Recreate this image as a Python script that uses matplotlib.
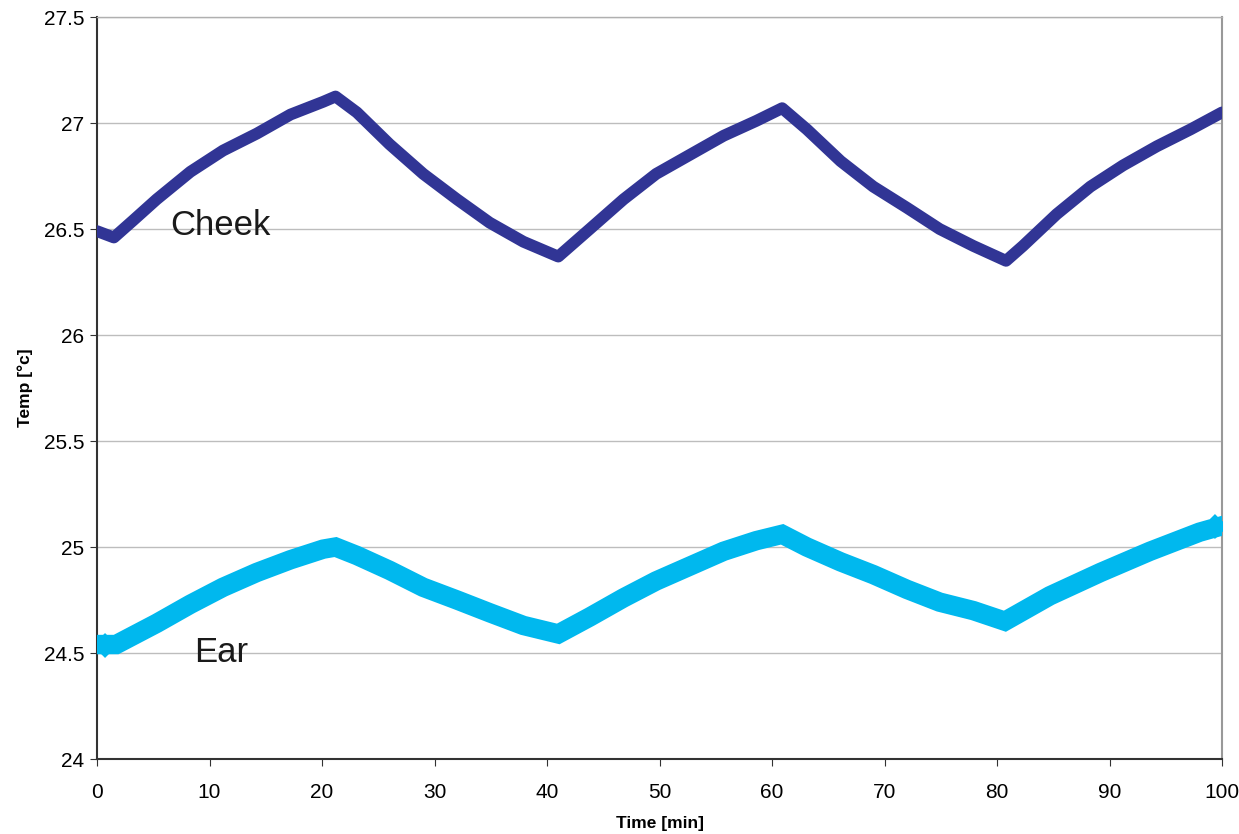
import matplotlib
matplotlib.use("Agg")
import matplotlib.pyplot as plt

plt.rcParams["font.family"] = ["Liberation Sans", "DejaVu Sans"]

# values
time_cheek = [0, 1.5, 3.2, 5.3, 8.3, 11.2, 14.2, 17.2, 20.1, 21.2, 23.1, 26.0, 29.0,
              32.0, 34.9, 37.9, 41.0, 43.8, 46.8, 49.7, 52.7, 55.7, 58.6, 60.9,
              63.1, 66.1, 69.0, 72.0, 74.9, 77.9, 80.8, 82.3, 85.3, 88.3, 91.2,
              94.2, 97.2, 100]
temp_cheek = [26.49, 26.46, 26.54, 26.64, 26.77, 26.87, 26.95, 27.04, 27.10, 27.125,
              27.05, 26.90, 26.76, 26.64, 26.53, 26.44, 26.37, 26.50, 26.64, 26.76,
              26.85, 26.94, 27.01, 27.07, 26.97, 26.82, 26.70, 26.60, 26.50, 26.42,
              26.35, 26.42, 26.57, 26.70, 26.80, 26.89, 26.97, 27.05]

time_ear = [0, 1.7, 5.3, 8.3, 11.2, 14.2, 17.2, 20.1, 21.2, 23.1, 26.0, 29.0, 32.0,
            34.9, 37.9, 41.0, 43.8, 46.8, 49.7, 52.7, 55.7, 58.6, 60.9, 63.1, 66.1,
            69.0, 72.0, 74.9, 77.9, 80.7, 84.7, 89.2, 93.6, 98.0, 100]
temp_ear = [24.54, 24.54, 24.64, 24.73, 24.81, 24.88, 24.94, 24.99, 25.00, 24.96,
            24.89, 24.81, 24.75, 24.69, 24.63, 24.59, 24.67, 24.76, 24.84, 24.91,
            24.98, 25.03, 25.06, 25.00, 24.93, 24.87, 24.80, 24.74, 24.70, 24.65,
            24.77, 24.88, 24.98, 25.07, 25.10]

xticks = list(range(0, 101, 10))
yticks = [24, 24.5, 25, 25.5, 26, 26.5, 27, 27.5]
ytick_labels = ["24", "24.5", "25", "25.5", "26", "26.5", "27", "27.5"]

fig = plt.figure(figsize=(12.39, 8.34), dpi=100)
ax = fig.add_axes([0.0783, 0.0899, 0.9080, 0.8897])

ax.plot(time_ear, temp_ear, color="#00B8EE", linewidth=14, solid_joinstyle="miter",
        marker="x", markersize=15, markeredgewidth=5,
        markevery=[0, len(time_ear) - 1], zorder=3)
ax.plot(time_cheek, temp_cheek, color="#313595", linewidth=8.5,
        solid_joinstyle="round", solid_capstyle="round", zorder=4)

ax.text(6.5, 26.47, "Cheek", fontsize=25, color="#1a1a1a")
ax.text(8.6, 24.46, "Ear", fontsize=25, color="#1a1a1a")

ax.set_xlim(0, 100)
ax.set_ylim(24, 27.5)
ax.set_xticks(xticks)
ax.set_yticks(yticks)
ax.set_yticklabels(ytick_labels)
ax.tick_params(labelsize=15, length=5, direction="out", color="#333333")
ax.tick_params(axis="x", pad=12)
ax.tick_params(axis="y", pad=4)
ax.grid(axis="y", color="#bdbdbd", linewidth=1)
ax.set_axisbelow(True)

for side in ["left", "bottom"]:
    ax.spines[side].set_color("#333333")
    ax.spines[side].set_linewidth(1.5)
ax.spines["right"].set_color("#999999")
ax.spines["right"].set_linewidth(1.5)
ax.spines["top"].set_color("#b0b0b0")
ax.spines["top"].set_linewidth(1)

ax.set_xlabel("Time [min]", fontsize=12.5, fontweight="bold", labelpad=10)
ax.set_ylabel("Temp [°c]", fontsize=12.5, fontweight="bold", labelpad=8)

fig.savefig("out.png", dpi=100, facecolor="white")
